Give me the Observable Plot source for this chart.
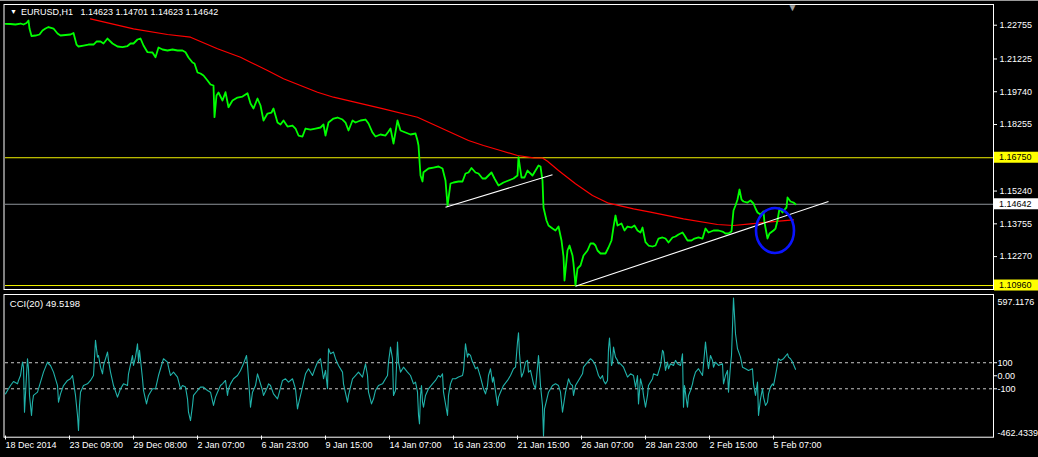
<!DOCTYPE html>
<html><head><meta charset="utf-8">
<script src="https://cdn.jsdelivr.net/npm/d3@7"></script>
<script src="https://cdn.jsdelivr.net/npm/@observablehq/plot@0.6"></script>
<style>
html,body{margin:0;padding:0;background:#000;}
#wrap{position:relative;width:1038px;height:457px;overflow:hidden;background:#000;}
#wrap svg{display:block;}
#topstrip{position:absolute;left:0;top:0;width:1038px;height:1px;background:#9a9a9a;}
</style></head><body><div id="wrap"><div id="topstrip"></div></div>
<script>
// ---------- header / labels ----------
const symbolTitle = "EURUSD,H1";
const ohlcText = ["1.14623", "1.14701", "1.14623", "1.14642"];
const cciTitle = "CCI(20) 49.5198";

// ---------- time axis (bar index of each labelled H1 bar) ----------
const tickBars = [0, 64, 128, 192, 256, 320, 384, 448, 512, 576, 640, 704, 768];
const tickLabels = ["18 Dec 2014", "23 Dec 09:00", "29 Dec 08:00", "2 Jan 07:00", "6 Jan 23:00", "9 Jan 15:00",
  "14 Jan 07:00", "16 Jan 23:00", "21 Jan 15:00", "26 Jan 07:00", "28 Jan 23:00", "2 Feb 15:00", "5 Feb 07:00"];
const barSpan = [0, 988];

// ---------- price scale ----------
const priceDomain = [1.10825, 1.23648];
const priceTicks = [1.22755, 1.21225, 1.19740, 1.18255, 1.15240, 1.13755, 1.12270];

// ---------- close prices (H1) ----------
const priceBar = [0,5,10,15,18,21,23,24,26,30,34,37,40,43,48,52,55,60,65,68,71,73,78,83,88,91,95,98,102,107,112,117,122,125,128,132,135,138,142,147,150,153,157,162,167,172,177,180,183,187,189,192,195,198,202,205,208,209,211,213,217,220,223,227,232,237,242,245,248,252,255,258,262,266,268,272,275,278,282,287,290,293,297,300,305,310,315,318,320,323,328,332,337,340,343,347,350,355,360,363,367,370,375,380,383,385,388,392,395,400,405,410,412,
413,415,417,418,423,428,433,437,440,442,445,448,453,457,460,463,466,470,473,477,480,483,486,489,493,498,503,508,512,513,516,519,522,527,530,533,535,537,538,541,543,547,550,553,556,558,559,562,564,567,568,570,572,575,578,582,585,588,590,592,595,600,603,606,608,610,612,616,619,622,626,629,632,635,637,640,643,647,650,653,657,660,663,667,670,673,677,679,682,686,689,693,697,700,703,708,713,717,720,723,726,728,730,732,734,736,738,742,745,748,750,752,755,758,759,762,764,768,770,772,774,777,779,781,782,785,788,790];
const priceClose = [1.22818,1.22809,1.22787,1.22832,1.22787,1.22855,1.22968,1.22605,1.22266,1.22288,1.22334,1.22515,1.22605,1.22673,1.22605,1.22379,1.22288,1.22311,1.22334,1.22401,1.21880,1.21790,1.21835,1.21880,1.21880,1.22016,1.22016,1.21926,1.22152,1.21926,1.21790,1.21758,1.21812,1.21926,1.21926,1.22107,1.22152,1.21835,1.21532,1.21518,1.21305,1.21744,1.21654,1.21609,1.21654,1.21609,1.21609,1.21532,1.21291,1.21065,1.21020,1.20612,1.20566,1.20476,1.20249,1.20068,1.20023,1.18586,1.19570,1.19706,1.19343,1.19719,1.19039,1.19343,1.19479,1.19524,1.19674,1.19207,1.18981,1.19434,1.19116,1.18437,1.18754,1.18799,1.18981,1.18346,1.18256,1.18437,1.18165,1.18210,1.18074,1.17757,1.17712,1.18074,1.18029,1.18074,1.18120,1.18256,1.17757,1.18346,1.18527,1.18573,1.18482,1.18346,1.17984,1.18437,1.18346,1.18437,1.18482,1.18301,1.17893,1.17712,1.17803,1.17757,1.17938,1.18074,1.17395,1.18437,1.17984,1.17893,1.17803,1.17848,1.17531,
1.17304,1.15945,1.15673,1.16094,1.16262,1.16307,1.16353,1.16262,1.15718,1.14585,1.15582,1.15628,1.15673,1.15673,1.16035,1.16081,1.16285,1.16081,1.16035,1.15809,1.15809,1.15945,1.16081,1.15809,1.15492,1.15628,1.15718,1.15809,1.15945,1.16774,1.15854,1.15854,1.16171,1.15945,1.16171,1.16398,1.16353,1.15718,1.14495,1.13906,1.13679,1.13543,1.13453,1.13634,1.13000,1.12275,1.11187,1.12547,1.12773,1.12320,1.11958,1.10961,1.11731,1.11867,1.12320,1.12547,1.12864,1.12864,1.12773,1.12547,1.12411,1.12411,1.12682,1.13000,1.13602,1.14132,1.13679,1.13770,1.13453,1.13634,1.13589,1.13679,1.13453,1.13362,1.13589,1.12923,1.12773,1.12728,1.12773,1.13090,1.13136,1.13090,1.12909,1.13136,1.13181,1.13272,1.13362,1.13226,1.13000,1.13000,1.13090,1.13136,1.13090,1.13543,1.13362,1.13453,1.13453,1.13407,1.13317,1.13317,1.13407,1.14359,1.14585,1.14857,1.15310,1.14857,1.14767,1.14721,1.14812,1.14676,1.14450,1.14268,1.14178,1.14314,1.13815,1.13090,1.13317,1.13453,1.13543,1.13906,1.14450,1.14268,1.14404,1.14495,1.14948,1.14767,1.14721,1.14642];

// ---------- moving average ----------
const maBar = [85,128,162,185,212,235,245,262,278,295,312,328,345,378,412,463,478,495,512,528,537,542,553,570,587,603,628,645,678,712,728,745,762,788];
const maVal = [1.23045,1.22592,1.22334,1.22211,1.21686,1.21305,1.21079,1.20702,1.20326,1.20023,1.19719,1.19493,1.19312,1.18967,1.18586,1.17531,1.17304,1.17078,1.16852,1.16747,1.16738,1.16593,1.16172,1.15569,1.15040,1.14690,1.14436,1.14282,1.13983,1.13725,1.13679,1.13756,1.13829,1.13938];

// ---------- drawn objects ----------
const trendStartBar = [440, 570];
const trendStartPrice = [1.14508, 1.10929];
const trendEndBar = [547, 823];
const trendEndPrice = [1.15977, 1.14767];
const levelValues = [1.16750, 1.10960];
const bidPrice = 1.14642;
const circleCenterBar = 770, circleCenterPrice = 1.13430, circleRadiusBars = 19, circleRadiusPrice = 0.0102;
const shiftBar = 787;

// ---------- CCI(20) ----------
const cciDomain = [-462.4339, 597.1176];
const cciLevels = [100, -100];
const cciTicks = [100, 0, -100];
const cciBar = [0,2,5,8,12,13,15,17,18,19,21,22,23,24,26,27,28,32,35,38,42,43,45,48,52,53,55,58,62,65,67,68,70,72,73,74,75,78,82,85,88,90,92,93,95,97,98,102,103,105,108,112,115,118,122,123,127,128,130,132,133,134,137,138,141,143,147,150,153,155,158,162,163,165,168,172,175,177,180,182,183,185,187,188,192,195,198,202,205,208,210,212,215,217,220,222,223,225,228,232,235,238,241,242,243,245,247,250,252,253,257,258,262,263,265,268,272,273,277,280,283,287,290,292,293,297,300,303,307,310,312,315,318,320,322,323,325,328,330,333,337,338,342,343,347,350,353,357,360,362,363,366,368,370,373,377,380,382,383,385,387,388,390,392,393,395,398,402,405,408,410,412,413,414,
415,416,417,418,420,423,427,430,433,435,437,438,442,443,445,447,450,453,457,458,460,462,463,465,467,468,470,472,475,478,480,482,483,485,487,488,492,493,495,498,502,505,508,510,512,513,514,516,518,520,522,523,525,528,530,532,533,534,535,537,538,539,541,543,547,550,553,555,557,558,560,562,563,565,567,568,570,573,577,578,582,585,587,588,590,592,593,595,597,598,600,602,603,604,606,607,608,610,612,613,615,618,622,625,628,630,632,633,635,637,638,640,642,643,647,648,652,653,655,657,658,660,662,663,665,668,670,672,675,677,678,679,681,682,683,685,687,688,690,693,697,700,702,703,705,707,708,710,713,717,718,720,722,723,725,726,728,729,730,732,735,737,740,743,747,748,750,752,753,755,757,758,760,762,763,765,767,768,770,773,775,778,782,783,785,787,790];
const cciVal = [-139,-113,-75,-44,-62,-36,2,105,66,-280,2,131,54,-151,-305,-203,-151,-126,-49,28,105,92,79,28,-75,-203,-139,-75,-36,-23,2,-49,-151,-305,-420,-228,-126,-75,-62,-36,2,272,143,156,66,15,79,182,118,28,-75,-164,-100,-62,-75,15,156,79,143,246,105,195,-23,-113,-216,-151,-100,-100,2,54,131,105,66,2,28,-10,-100,-75,-87,-177,-280,-344,-228,-151,-113,-87,-87,-113,-126,-228,-164,-126,-75,-62,-36,-151,-100,-62,-23,2,41,92,156,79,-23,-241,-126,-75,15,-10,-113,-151,-87,-62,-75,-139,-177,-151,-36,-23,-49,-23,-100,-254,-216,-87,15,54,2,66,105,131,-23,41,-100,207,169,182,131,79,28,-62,-203,-151,-23,2,28,-10,92,2,-126,-216,-177,-113,-75,-62,-23,2,105,220,131,-151,-113,259,105,28,66,28,2,-62,-49,-126,-300,-369,
-151,-75,-203,-241,-151,-100,-62,-36,2,-10,15,-126,-305,-151,-62,-23,-23,-10,2,41,246,143,169,156,105,92,54,66,-10,-100,-139,-75,2,54,-49,-10,-228,-164,-126,-75,-36,2,54,66,259,330,169,-10,28,105,118,28,41,-62,-100,66,156,54,-75,-228,-462,-254,-190,-126,-75,-62,-75,-126,-280,-228,-126,-62,-23,-62,-75,-151,-75,-36,15,66,105,131,118,105,79,28,2,-23,2,-36,-62,-36,207,289,79,105,220,143,118,92,92,66,-10,15,2,-87,2,-216,-23,-87,-151,-241,-151,-75,-23,15,2,28,79,195,182,41,105,54,92,79,118,92,79,169,-241,-75,-190,-241,-151,-113,-62,-23,28,54,2,259,105,54,156,118,66,105,79,92,-62,2,41,-126,79,156,597,464,323,207,143,66,54,41,54,-62,-151,-49,-305,-177,-100,-164,-228,-203,-139,-87,-62,-75,2,131,118,131,169,143,131,105,49.5198];

// ---------- build tables ----------
const FONT = "'Liberation Sans', Arial, 'DejaVu Sans', sans-serif";
const prices = priceBar.map((b, i) => ({bar: b, close: priceClose[i]}));
const ma = maBar.map((b, i) => ({bar: b, value: maVal[i]}));
const trends = trendStartBar.map((b, i) => ({b1: b, p1: trendStartPrice[i], b2: trendEndBar[i], p2: trendEndPrice[i]}));
const cci = cciBar.map((b, i) => ({bar: b, value: cciVal[i]}));
const tags = [
  {value: levelValues[0], bg: "#ffff00"},
  {value: levelValues[1], bg: "#ffff00"},
  {value: bidPrice, bg: "#ffffff"}
];

const SVGNS = "http://www.w3.org/2000/svg";

// blue ellipse drawn with the plot's own scales
function ellipseMark(index, scales) {
  const cx = scales.x(circleCenterBar), cy = scales.y(circleCenterPrice);
  const rx = Math.abs(scales.x(circleCenterBar + circleRadiusBars) - cx);
  const ry = Math.abs(scales.y(circleCenterPrice + circleRadiusPrice) - cy);
  const e = document.createElementNS(SVGNS, "ellipse");
  e.setAttribute("cx", cx); e.setAttribute("cy", cy);
  e.setAttribute("rx", rx); e.setAttribute("ry", ry);
  e.setAttribute("fill", "none"); e.setAttribute("stroke", "#0a14ff"); e.setAttribute("stroke-width", 2.6);
  return e;
}

// highlighted price tags in the right margin
function tagMark(index, scales, values, dims) {
  const g = document.createElementNS(SVGNS, "g");
  const x0 = dims.width - dims.marginRight + 1;
  for (const t of tags) {
    const y = scales.y(t.value);
    const r = document.createElementNS(SVGNS, "rect");
    r.setAttribute("x", x0); r.setAttribute("y", y - 5.5);
    r.setAttribute("width", 44); r.setAttribute("height", 11);
    r.setAttribute("fill", t.bg);
    const tx = document.createElementNS(SVGNS, "text");
    tx.setAttribute("x", x0 + 5); tx.setAttribute("y", y);
    tx.setAttribute("dy", "0.35em"); tx.setAttribute("fill", "#000");
    tx.setAttribute("text-anchor", "start");
    tx.setAttribute("font-size", "9px"); tx.setAttribute("font-family", FONT);
    tx.textContent = t.value.toFixed(5);
    g.appendChild(r); g.appendChild(tx);
  }
  return g;
}

const pricePlot = Plot.plot({
  width: 1038, height: 291,
  marginLeft: 5, marginRight: 45, marginTop: 5, marginBottom: 3,
  x: {domain: barSpan, axis: null},
  y: {domain: priceDomain},
  style: {background: "#000", color: "#fff", fontFamily: FONT, fontSize: "9px", overflow: "visible"},
  marks: [
    Plot.ruleY(levelValues, {stroke: "#f2f200", strokeWidth: 1}),
    Plot.ruleY([bidPrice], {stroke: "#8e949a", strokeWidth: 1}),
    Plot.line(ma, {x: "bar", y: "value", stroke: "#ff0000", strokeWidth: 1.2}),
    Plot.line(prices, {x: "bar", y: "close", stroke: "#00ff00", strokeWidth: 1.8}),
    Plot.link(trends, {x1: "b1", y1: "p1", x2: "b2", y2: "p2", stroke: "#ffffff", strokeWidth: 1.1}),
    ellipseMark,
    Plot.frame({stroke: "#ffffff", insetLeft: -1.5, insetTop: -1, insetBottom: -1}),
    Plot.axisY({anchor: "right", label: null, ticks: priceTicks, tickFormat: d => d.toFixed(5), tickSize: 3, tickPadding: 3, fill: "#fff", stroke: "#fff"}),
    tagMark,
    Plot.text([symbolTitle + "\u00a0\u00a0\u00a0" + ohlcText.join(" ")], {frameAnchor: "top-left", dx: 15.5, dy: 3, fill: "#fff", fontSize: 9, textAnchor: "start"}),
    Plot.text(["\u25BC"], {frameAnchor: "top-left", dx: 4.5, dy: 4, fill: "#fff", fontSize: 7, textAnchor: "start"}),
    Plot.text(["\u25BC"], {x: [shiftBar], frameAnchor: "top", dy: -2, fill: "#a0a0a0", fontSize: 10})
  ]
});

const cciPlot = Plot.plot({
  width: 1038, height: 166,
  marginLeft: 5, marginRight: 45, marginTop: 6.5, marginBottom: 21.5,
  x: {domain: barSpan},
  y: {domain: cciDomain},
  style: {background: "#000", color: "#fff", fontFamily: FONT, fontSize: "9px", overflow: "visible"},
  marks: [
    Plot.ruleY(cciLevels, {stroke: "#c8c8c8", strokeDasharray: "3,3", strokeWidth: 1}),
    Plot.line(cci, {x: "bar", y: "value", stroke: "#20b2aa", strokeWidth: 1.1}),
    Plot.frame({stroke: "#ffffff", insetLeft: -1.5, insetTop: -3.5, insetBottom: -1.2}),
    Plot.axisY({anchor: "right", label: null, ticks: cciTicks, tickFormat: d => d === 0 ? "0.00" : String(d), tickSize: 3, tickPadding: 1, fill: "#fff", stroke: "#fff"}),
    Plot.text([cciDomain[1]], {y: d => d, frameAnchor: "right", textAnchor: "start", dx: 4, dy: 4, text: d => d.toFixed(4), fill: "#fff", fontSize: 9}),
    Plot.text([cciDomain[0]], {y: d => d, frameAnchor: "right", textAnchor: "start", dx: 4, dy: -3, text: d => d.toFixed(4), fill: "#fff", fontSize: 9}),
    Plot.axisX({anchor: "bottom", label: null, ticks: tickBars, tickFormat: d => tickLabels[tickBars.indexOf(d)], textAnchor: "start", tickSize: 4, tickPadding: 2, fill: "#fff", stroke: "#fff"}),
    Plot.text([cciTitle], {frameAnchor: "top-left", dx: 4.3, dy: 2, fill: "#fff", fontSize: 9.5, textAnchor: "start"})
  ]
});

const wrap = document.getElementById("wrap");
wrap.appendChild(pricePlot);
wrap.appendChild(cciPlot);
</script>
</body></html>
